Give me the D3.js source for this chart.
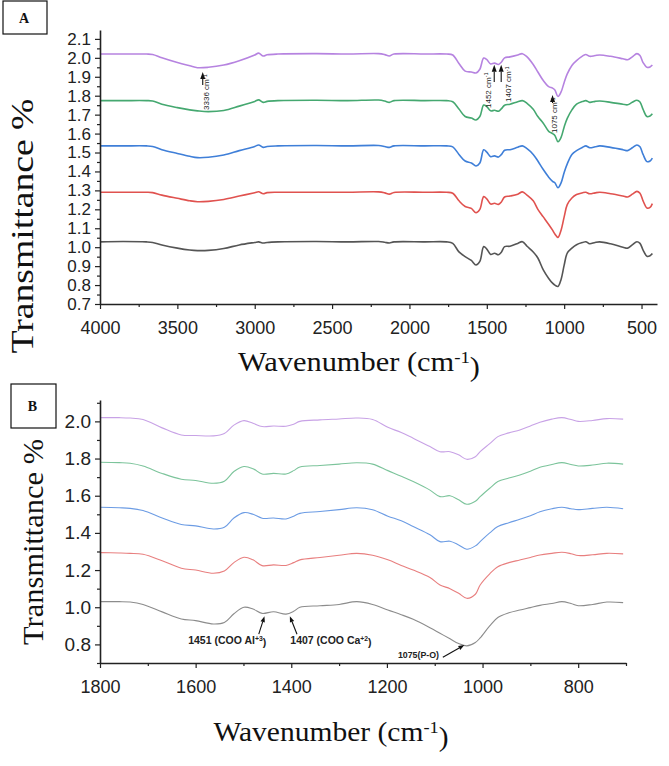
<!DOCTYPE html>
<html><head><meta charset="utf-8">
<script src="https://cdn.jsdelivr.net/npm/d3@7"></script>
<style>body{margin:0;background:#fff}svg{display:block}</style>
</head><body>
<svg id="c" width="669" height="766"></svg>
<script>
// ---------- DATA ----------
const seriesNames = ["S1", "S2", "S3", "S4", "S5"];
const colorsA = ["#555555", "#e0524f", "#3f7fd8", "#45a870", "#b683e0"];
const colorsB = ["#8c8c8c", "#e87f7f", "#6c9ce4", "#7cc49b", "#c8a2e6"];

const wnA = [4000,3850,3700,3660,3600,3500,3420,3370,3300,3200,3100,3000,2975,2945,2920,2850,2600,2400,2200,2160,2130,2100,1900,1760,1720,1680,1640,1600,1570,1545,1520,1500,1475,1450,1425,1405,1385,1350,1300,1270,1240,1200,1170,1135,1100,1075,1060,1040,1020,1000,980,950,920,880,860,835,800,770,700,620,590,560,530,510,490,465,445,430];
const aS1 = [1.028,1.03,1.028,1.025,1.012,0.995,0.985,0.982,0.983,0.993,1.012,1.025,1.028,1.022,1.025,1.028,1.03,1.028,1.03,1.026,1.022,1.028,1.028,1.028,1.02,0.975,0.95,0.93,0.906,0.925,1.003,0.99,0.962,0.968,0.96,0.975,1.003,1.005,1.02,1.029,1.005,0.975,0.943,0.88,0.835,0.81,0.8,0.793,0.83,0.905,0.969,0.995,1.013,1.025,1.029,1.018,1.025,1.028,1.018,1.0,0.995,1.012,1.029,1.02,0.985,0.952,0.955,0.967];
const aS2 = [1.29,1.29,1.29,1.288,1.275,1.258,1.245,1.24,1.242,1.252,1.27,1.288,1.293,1.282,1.288,1.29,1.29,1.29,1.292,1.287,1.28,1.289,1.29,1.29,1.285,1.245,1.215,1.205,1.182,1.2,1.267,1.255,1.228,1.232,1.226,1.24,1.265,1.27,1.28,1.292,1.275,1.245,1.2,1.16,1.12,1.09,1.07,1.052,1.09,1.16,1.225,1.26,1.278,1.288,1.29,1.282,1.287,1.29,1.282,1.27,1.265,1.28,1.295,1.285,1.245,1.207,1.21,1.23];
const aS3 = [1.535,1.535,1.535,1.532,1.515,1.495,1.48,1.473,1.475,1.487,1.51,1.532,1.54,1.527,1.532,1.535,1.537,1.535,1.537,1.532,1.527,1.535,1.535,1.535,1.53,1.49,1.455,1.445,1.429,1.445,1.514,1.502,1.478,1.482,1.476,1.49,1.512,1.515,1.528,1.535,1.52,1.49,1.455,1.41,1.37,1.348,1.34,1.314,1.34,1.395,1.44,1.49,1.51,1.528,1.535,1.525,1.53,1.535,1.527,1.515,1.51,1.525,1.54,1.53,1.49,1.452,1.455,1.47];
const aS4 = [1.774,1.774,1.774,1.772,1.755,1.737,1.725,1.72,1.716,1.722,1.745,1.77,1.778,1.765,1.77,1.774,1.776,1.774,1.777,1.772,1.765,1.774,1.774,1.774,1.768,1.73,1.69,1.682,1.672,1.69,1.751,1.742,1.72,1.723,1.718,1.732,1.75,1.755,1.768,1.774,1.76,1.728,1.69,1.655,1.612,1.6,1.59,1.557,1.58,1.635,1.68,1.725,1.755,1.77,1.774,1.765,1.77,1.772,1.765,1.755,1.752,1.765,1.776,1.767,1.728,1.69,1.693,1.705];
const aS5 = [2.02,2.02,2.02,2.018,2.0,1.975,1.958,1.948,1.95,1.962,1.985,2.015,2.025,2.01,2.016,2.02,2.022,2.02,2.022,2.017,2.01,2.02,2.02,2.02,2.015,1.97,1.93,1.925,1.92,1.94,1.999,1.99,1.968,1.972,1.965,1.978,2.0,2.005,2.015,2.022,2.005,1.965,1.925,1.88,1.848,1.84,1.83,1.796,1.82,1.87,1.915,1.96,1.985,2.01,2.018,2.008,2.012,2.015,2.008,1.995,1.99,2.005,2.022,2.012,1.975,1.95,1.952,1.962];

const wnB = [1800,1760,1737,1710,1670,1630,1600,1563,1540,1520,1499,1480,1461,1437,1411,1395,1382,1340,1300,1263,1230,1198,1170,1145,1110,1089,1068,1050,1033,1015,1005,985,968,945,922,900,880,855,834,815,800,770,740,706];
const bS1 = [1.03,1.03,1.028,1.015,0.975,0.937,0.928,0.91,0.918,0.965,1.0,0.99,0.967,0.976,0.963,0.978,1.0,1.008,1.015,1.03,1.015,0.985,0.96,0.935,0.89,0.86,0.83,0.805,0.792,0.81,0.835,0.9,0.945,0.97,0.985,0.998,1.01,1.02,1.03,1.02,1.008,1.015,1.028,1.025];
const bS2 = [1.294,1.292,1.29,1.285,1.25,1.21,1.2,1.183,1.195,1.24,1.269,1.255,1.224,1.228,1.225,1.24,1.255,1.268,1.28,1.29,1.28,1.255,1.225,1.2,1.16,1.12,1.1,1.075,1.048,1.07,1.12,1.18,1.218,1.24,1.254,1.268,1.281,1.29,1.296,1.288,1.278,1.282,1.29,1.287];
const bS3 = [1.538,1.535,1.532,1.52,1.48,1.445,1.438,1.421,1.43,1.48,1.509,1.5,1.479,1.48,1.475,1.49,1.505,1.515,1.525,1.535,1.525,1.49,1.465,1.434,1.39,1.353,1.355,1.335,1.312,1.33,1.353,1.4,1.434,1.455,1.473,1.492,1.514,1.53,1.538,1.53,1.525,1.532,1.538,1.53];
const bS4 = [1.78,1.778,1.775,1.76,1.72,1.689,1.682,1.667,1.678,1.73,1.757,1.745,1.717,1.72,1.717,1.735,1.755,1.763,1.77,1.777,1.77,1.735,1.705,1.676,1.63,1.595,1.6,1.578,1.554,1.57,1.595,1.64,1.676,1.695,1.712,1.732,1.753,1.768,1.778,1.768,1.76,1.765,1.775,1.77];
const bS5 = [2.02,2.02,2.018,2.01,1.965,1.927,1.924,1.922,1.935,1.98,2.004,1.99,1.972,1.975,1.974,1.985,2.0,2.008,2.013,2.018,2.01,1.968,1.94,1.909,1.865,1.837,1.837,1.82,1.796,1.81,1.837,1.88,1.918,1.938,1.954,1.975,1.995,2.012,2.02,2.01,2.0,2.005,2.015,2.012];

const xTicksA = [4000,3500,3000,2500,2000,1500,1000,500];
const xMinorA = [3750,3250,2750,2250,1750,1250,750];
const yTicksA = [0.7,0.8,0.9,1.0,1.1,1.2,1.3,1.4,1.5,1.6,1.7,1.8,1.9,2.0,2.1];
const yMinorA = [0.75,0.85,0.95,1.05,1.15,1.25,1.35,1.45,1.55,1.65,1.75,1.85,1.95,2.05];
const xTicksB = [1800,1600,1400,1200,1000,800];
const xMinorB = [1700,1500,1300,1100,900,700];
const yTicksB = [0.8,1.0,1.2,1.4,1.6,1.8,2.0];
const yMinorB = [0.7,0.9,1.1,1.3,1.5,1.7,1.9,2.1];

// annotations: arrow tip (wn,val), tail (wn,val), text anchor (wn,val)
const annA = [
  {label:"3336 cm", sup:"-1", tip:[3336,1.925], tail:[3336,1.857], tx:[3295,1.725]},
  {label:"1452 cm", sup:"-1", tip:[1452,1.963], tail:[1452,1.873], tx:[1473,1.735]},
  {label:"1407 cm", sup:"-1", tip:[1407,1.963], tail:[1407,1.873], tx:[1343,1.767]},
  {label:"1075 cm", sup:"-1", tip:[1075,1.804], tail:[1075,1.762], tx:[1046,1.603]}
];
const annB = [
  {label:"1451 (COO Al", sup:"+3", tip:[1456,0.952], tail:[1468,0.855], tx:[1534,0.802], anchor:"middle", size:10.5},
  {label:"1407 (COO Ca", sup:"+2", tip:[1403,0.952], tail:[1388,0.855], tx:[1317,0.8], anchor:"middle", size:10.5},
  {label:"1075(P-O)", sup:"", tip:[1038,0.797], tail:[1083,0.731], tx:[1091,0.726], anchor:"end", size:8.8}
];

// ---------- DRAW ----------
const svg = d3.select("#c");
const tickFont = "'Liberation Sans', Arial, sans-serif";
const serif = "'Liberation Serif', 'Times New Roman', serif";

function panel(cfg) {
  const x = d3.scaleLinear().domain(cfg.xDom).range(cfg.xRange);
  const y = d3.scaleLinear().domain(cfg.yDom).range(cfg.yRange);
  const g = svg.append("g");

  const line = d3.line().x(d => x(d[0])).y(d => y(d[1])).curve(d3.curveCatmullRom.alpha(0.5));
  cfg.series.forEach((vals, i) => {
    g.append("path")
      .datum(cfg.wn.map((w, j) => [w, vals[j]]))
      .attr("d", line)
      .attr("fill", "none")
      .attr("stroke", cfg.colors[i])
      .attr("stroke-width", cfg.lw)
      .attr("stroke-linejoin", "round");
  });

  const y0 = cfg.yRange[0], x0 = cfg.xRange[0];
  const xa = g.append("g").attr("transform", `translate(0,${y0})`)
    .call(d3.axisBottom(x).tickValues(cfg.xTicks).tickSize(5).tickSizeOuter(0).tickPadding(12).tickFormat(d3.format("d")));
  g.append("g").attr("transform", `translate(0,${y0})`)
    .call(d3.axisBottom(x).tickValues(cfg.xMinor).tickSize(3).tickSizeOuter(0).tickFormat(""))
    .select(".domain").remove();
  const ya = g.append("g").attr("transform", `translate(${x0},0)`)
    .call(d3.axisLeft(y).tickValues(cfg.yTicks).tickSize(5).tickSizeOuter(0).tickPadding(cfg.yPad).tickFormat(d3.format(".1f")));
  g.append("g").attr("transform", `translate(${x0},0)`)
    .call(d3.axisLeft(y).tickValues(cfg.yMinor).tickSize(3).tickSizeOuter(0).tickFormat(""))
    .select(".domain").remove();
  g.selectAll(".domain").attr("stroke", "#222").attr("stroke-width", 1.6);
  g.selectAll(".tick line").attr("stroke", "#222").attr("stroke-width", 1.2);
  xa.selectAll("text").attr("font-family", tickFont).attr("font-size", cfg.xFs).attr("fill", "#222");
  ya.selectAll("text").attr("font-family", tickFont).attr("font-size", cfg.yFs).attr("fill", "#222");

  const xt = svg.append("text")
    .attr("x", cfg.xTitle[0]).attr("y", cfg.xTitle[1])
    .attr("text-anchor", "middle")
    .attr("font-family", serif).attr("font-size", cfg.xTitle[2]).attr("fill", "#111")
    .attr("textLength", cfg.xTitle[3]).attr("lengthAdjust", "spacingAndGlyphs");
  xt.append("tspan").text("Wavenumber (cm");
  xt.append("tspan").attr("dy", "-0.45em").attr("font-size", "0.62em").text("-1");
  xt.append("tspan").attr("dy", "0.45em").text(")");

  svg.append("text")
    .attr("transform", `translate(${cfg.yTitle[0]},${cfg.yTitle[1]}) rotate(-90)`)
    .attr("text-anchor", "middle")
    .attr("font-family", serif).attr("font-size", cfg.yTitle[2]).attr("fill", "#111")
    .attr("textLength", cfg.yTitle[3]).attr("lengthAdjust", "spacingAndGlyphs")
    .text("Transmittance %");

  return {x, y, g};
}

const A = panel({
  xDom:[4000,400], xRange:[100,657], yDom:[0.7,2.147], yRange:[304,30],
  wn: wnA, series:[aS1,aS2,aS3,aS4,aS5], colors: colorsA, lw: 1.6,
  xTicks:xTicksA, xMinor:xMinorA, yTicks:yTicksA, yMinor:yMinorA, yPad:4,
  xFs:18, yFs:17, xTitle:[359,371,28,242], yTitle:[33,226,32,255]
});
const B = panel({
  xDom:[1800,700], xRange:[100,626], yDom:[0.7,2.115], yRange:[663,400],
  wn: wnB, series:[bS1,bS2,bS3,bS4,bS5], colors: colorsB, lw: 1.1,
  xTicks:xTicksB, xMinor:xMinorB, yTicks:yTicksB, yMinor:yMinorB, yPad:4,
  xFs:18, yFs:19, xTitle:[331,741,27,235], yTitle:[43,542,30,206]
});

function arrow(g, x1, y1, x2, y2, hl, hw) {
  const ang = Math.atan2(y2 - y1, x2 - x1);
  const bx = x2 - hl * Math.cos(ang), by = y2 - hl * Math.sin(ang);
  g.append("line").attr("x1", x1).attr("y1", y1).attr("x2", bx).attr("y2", by)
    .attr("stroke", "#111").attr("stroke-width", 1.1);
  const px = -Math.sin(ang) * hw / 2, py = Math.cos(ang) * hw / 2;
  g.append("path").attr("d", `M${x2},${y2}L${bx + px},${by + py}L${bx - px},${by - py}Z`).attr("fill", "#111");
}

annA.forEach(a => {
  arrow(A.g, A.x(a.tail[0]), A.y(a.tail[1]), A.x(a.tip[0]), A.y(a.tip[1]), 7, 5);
  const t = A.g.append("text")
    .attr("transform", `translate(${A.x(a.tx[0])},${A.y(a.tx[1])}) rotate(-90)`)
    .attr("font-family", tickFont).attr("font-size", 8).attr("fill", "#222");
  t.append("tspan").text(a.label);
  t.append("tspan").attr("dy", "-0.45em").attr("font-size", "0.7em").text(a.sup);
});

annB.forEach(a => {
  arrow(B.g, B.x(a.tail[0]), B.y(a.tail[1]), B.x(a.tip[0]), B.y(a.tip[1]), 6, 4.5);
  const t = B.g.append("text")
    .attr("x", B.x(a.tx[0])).attr("y", B.y(a.tx[1]))
    .attr("text-anchor", a.anchor)
    .attr("font-family", tickFont).attr("font-weight", "bold")
    .attr("font-size", a.size).attr("fill", "#222");
  t.append("tspan").text(a.label);
  if (a.sup) {
    t.append("tspan").attr("dy", "-0.45em").attr("font-size", "0.65em").text(a.sup);
    t.append("tspan").attr("dy", "0.45em").text(")");
  }
});

[["A", 3, 1, 44, 33], ["B", 11, 384, 45, 44]].forEach(([t, bx, by, bw, bh]) => {
  svg.append("rect").attr("x", bx).attr("y", by).attr("width", bw).attr("height", bh)
    .attr("fill", "#fff").attr("stroke", "#111").attr("stroke-width", 1.2);
  svg.append("text").attr("x", bx + bw / 2 - 1).attr("y", by + bh / 2 + 5)
    .attr("text-anchor", "middle").attr("font-family", serif).attr("font-weight", "bold")
    .attr("font-size", 14).attr("fill", "#111").text(t);
});
</script>
</body></html>
